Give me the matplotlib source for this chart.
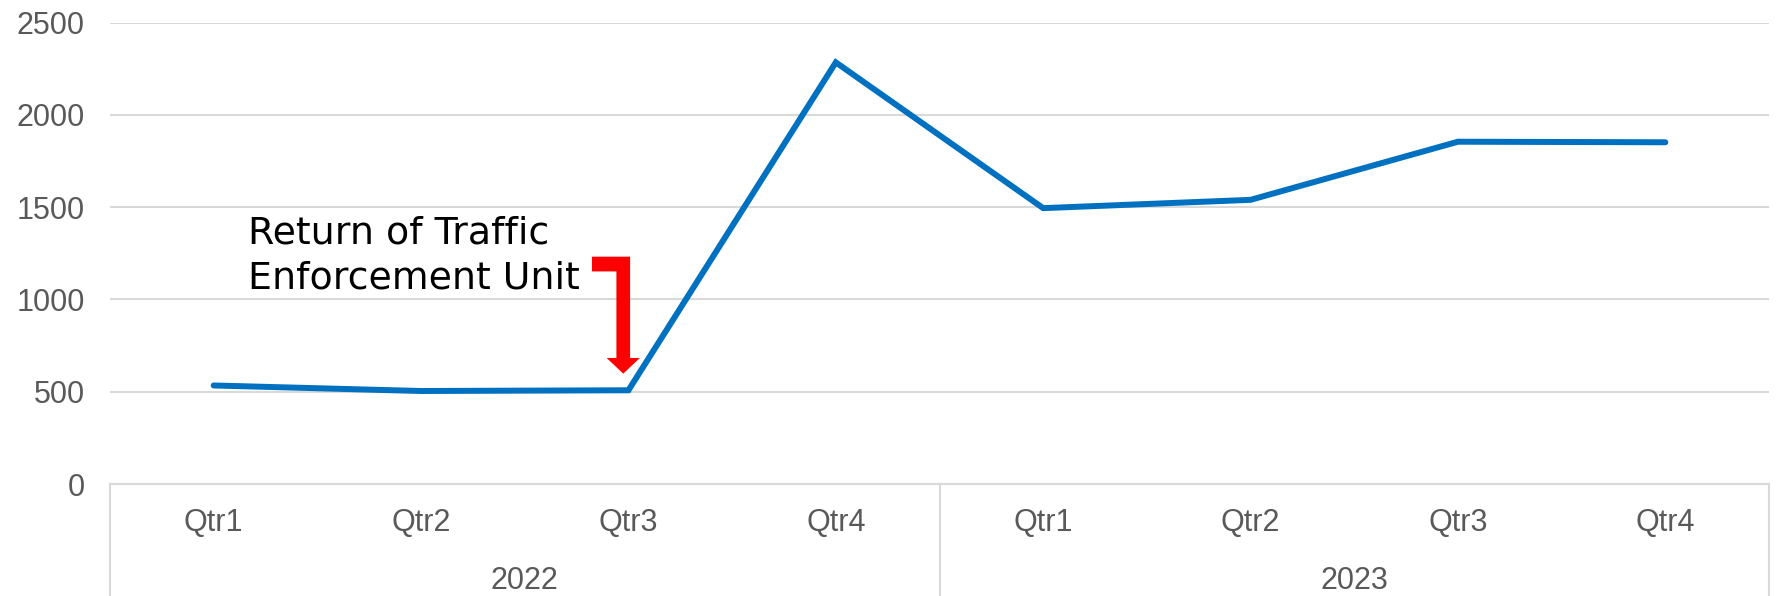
import matplotlib
matplotlib.use("Agg")
import matplotlib.pyplot as plt
import matplotlib.transforms as mtransforms
from matplotlib.patches import Polygon

# ---- data ----
years = ["2022", "2023"]
quarters = ["Qtr1", "Qtr2", "Qtr3", "Qtr4"]
values = [534, 504, 508, 2285, 1495, 1540, 1855, 1852]
yticks = [0, 500, 1000, 1500, 2000, 2500]
annotation_lines = ["Return of Traffic", "Enforcement Unit"]

W, H = 1777, 596
fig = plt.figure(figsize=(W / 100, H / 100), dpi=100)
left, right = 110 / W, 1769 / W
bottom, top = 1 - 484 / H, 1 - 22.7 / H
ax = fig.add_axes([left, bottom, right - left, top - bottom])

n = len(years) * len(quarters)
x = list(range(n))
ax.plot(x, values, color="#0070C0", lw=4.3, solid_capstyle="round",
        solid_joinstyle="miter", zorder=3)

ax.set_xlim(-0.5, n - 0.5)
ax.set_ylim(0, 2500)
ax.set_yticks(yticks)
ax.set_yticklabels([str(v) for v in yticks], fontsize=22, color="#595959",
                   family="Liberation Sans")
ax.tick_params(axis="y", length=0, pad=18)
ax.set_xticks([])
ax.grid(axis="y", color="#D9D9D9", lw=1.5, zorder=0)
for s in ["top", "right", "left", "bottom"]:
    ax.spines[s].set_visible(False)

# category axis boxes
trans = mtransforms.blended_transform_factory(ax.transData, ax.transAxes)
ybot = -0.245
ax.plot([-0.5, n - 0.5], [0, 0], transform=trans, color="#D9D9D9", lw=1.5,
        clip_on=False, zorder=1)
for xv in [-0.5 + k * len(quarters) for k in range(len(years) + 1)]:
    ax.plot([xv, xv], [0, ybot], transform=trans, color="#D9D9D9", lw=1.5,
            clip_on=False)
for i in range(n):
    ax.text(i, -0.0845, quarters[i % len(quarters)], transform=trans,
            ha="center", va="center", fontsize=22, color="#595959",
            family="Liberation Sans")
for k, yr in enumerate(years):
    cx = (len(quarters) - 1) / 2 + k * len(quarters)
    ax.text(cx, -0.21, yr, transform=trans, ha="center", va="center",
            fontsize=22, color="#595959", family="Liberation Sans")

# annotation text
ax.text(0.165, 1301, annotation_lines[0], ha="left", va="baseline",
        fontsize=27.3, color="black", family="DejaVu Sans")
ax.text(0.165, 1057, annotation_lines[1], ha="left", va="baseline",
        fontsize=27.3, color="black", family="DejaVu Sans")

# elbow arrow (annotation graphic)
xs_l, xs_r = 1.942, 2.008      # shaft
xb_l = 1.824                   # bar left
xh_l, xh_r = 1.895, 2.055      # head
y_top, y_bar = 1232, 1152
y_head, y_tip = 683, 598
xc = (xs_l + xs_r) / 2
verts = [(xb_l, y_top), (xs_r, y_top), (xs_r, y_head), (xh_r, y_head),
         (xc, y_tip), (xh_l, y_head), (xs_l, y_head), (xs_l, y_bar),
         (xb_l, y_bar)]
ax.add_patch(Polygon(verts, closed=True, facecolor="#FF0000",
                     edgecolor="none", zorder=4))

fig.savefig("out.png", dpi=100)
